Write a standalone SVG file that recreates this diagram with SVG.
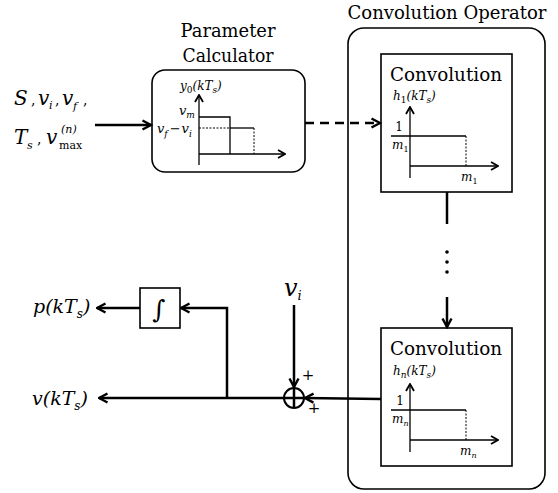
<svg xmlns="http://www.w3.org/2000/svg" width="558" height="493" viewBox="0 0 558 493">
  <style>
    .ln { stroke: #000; stroke-width: 2.5; fill: none; }
    .thin { stroke: #000; stroke-width: 1.3; fill: none; }
    .dot { stroke: #000; stroke-width: 1; fill: none; stroke-dasharray: 2 1.5; }
    .box { fill: #fff; stroke: #000; stroke-width: 1.6; }
    text { font-family: 'DejaVu Serif', 'Liberation Serif', serif; fill: #000; }
    .ttl { font-size: 18px; }
    .m { font-style: italic; }
  </style>
  <defs>
    <marker id="ah" viewBox="0 0 12 12" refX="10.5" refY="6" markerWidth="12" markerHeight="12" orient="auto" markerUnits="userSpaceOnUse">
      <path d="M2,1.5 L10.5,6 L2,10.5" fill="none" stroke="#000" stroke-width="2.4"/>
    </marker>
    <marker id="sa" viewBox="0 0 10 10" refX="9" refY="5" markerWidth="10" markerHeight="10" orient="auto" markerUnits="userSpaceOnUse">
      <path d="M2,1 L9,5 L2,9" fill="none" stroke="#000" stroke-width="1.8"/>
    </marker>
  </defs>

  <rect width="558" height="493" fill="#fff"/>

  <!-- input parameters -->
  <g id="inputs">
    <text class="m" font-size="20" x="14" y="105">S</text>
    <text font-size="14" x="31" y="105">,</text>
    <text class="m" font-size="20" x="38" y="105">v</text>
    <text class="m" font-size="11" x="49" y="109">i</text>
    <text font-size="14" x="55" y="105">,</text>
    <text class="m" font-size="20" x="62" y="105">v</text>
    <text class="m" font-size="11" x="73" y="110">f</text>
    <text font-size="14" x="83" y="105">,</text>

    <text class="m" font-size="20" x="14" y="144">T</text>
    <text class="m" font-size="11" x="27" y="149">s</text>
    <text font-size="14" x="37" y="144">,</text>
    <text class="m" font-size="20" x="46" y="144">v</text>
    <text class="m" font-size="11" x="61" y="133">(n)</text>
    <text font-size="11" x="59" y="149">max</text>
  </g>

  <!-- parameter calculator -->
  <g id="param-calc">
    <text class="ttl" x="228" y="37" text-anchor="middle" textLength="95" lengthAdjust="spacingAndGlyphs">Parameter</text>
    <text class="ttl" x="228" y="62" text-anchor="middle" textLength="91" lengthAdjust="spacingAndGlyphs">Calculator</text>
    <rect class="box" x="152" y="70" width="153" height="102" rx="13"/>
    <line class="thin" x1="199" y1="165" x2="199" y2="95" marker-end="url(#sa)"/>
    <line class="thin" x1="199" y1="154" x2="285" y2="154" marker-end="url(#sa)"/>
    <polyline class="thin" points="199,117 230,117 230,154"/>
    <polyline class="thin" points="230,128 254,128"/>
    <line class="dot" x1="254" y1="128" x2="254" y2="154"/>
    <line class="dot" x1="199" y1="128" x2="230" y2="128"/>
    <text class="m" font-size="12" x="180" y="90">y<tspan font-style="normal" font-size="9" dy="3">0</tspan><tspan dy="-3">(kT</tspan><tspan font-size="9" dy="3">s</tspan><tspan dy="-3">)</tspan></text>
    <text class="m" font-size="13" x="179" y="115">v<tspan font-size="9" dy="3">m</tspan></text>
    <text class="m" font-size="13" x="157" y="133">v<tspan font-size="9" dy="4">f</tspan><tspan font-style="normal" dy="-4" dx="2">−</tspan><tspan dx="1">v</tspan><tspan font-size="9" dy="4">i</tspan></text>
  </g>

  <!-- convolution operator -->
  <g id="conv-op">
    <text class="ttl" x="447" y="19" text-anchor="middle" textLength="199" lengthAdjust="spacingAndGlyphs">Convolution Operator</text>
    <rect class="box" x="348" y="28" width="197" height="461" rx="16"/>
  </g>

  <g id="conv-1">
    <rect class="box" x="381" y="54" width="131" height="138" stroke-width="2"/>
    <text class="ttl" x="446" y="81" text-anchor="middle" textLength="112" lengthAdjust="spacingAndGlyphs">Convolution</text>
    <text class="m" font-size="12" x="393" y="100">h<tspan font-style="normal" font-size="9" dy="3">1</tspan><tspan dy="-3">(kT</tspan><tspan font-size="9" dy="3">s</tspan><tspan dy="-3">)</tspan></text>
    <line class="thin" x1="410" y1="178" x2="410" y2="107" marker-end="url(#sa)"/>
    <line class="thin" x1="410" y1="166" x2="498" y2="166" marker-end="url(#sa)"/>
    <polyline class="thin" points="391,136 410,136 466,136"/>
    <line class="dot" x1="466" y1="136" x2="466" y2="166"/>
    <text font-size="12" x="399" y="131" text-anchor="middle">1</text>
    <text class="m" font-size="12" x="392" y="149">m<tspan font-style="normal" font-size="8" dy="3">1</tspan></text>
    <text class="m" font-size="12" x="461" y="181">m<tspan font-style="normal" font-size="8" dy="3">1</tspan></text>
  </g>

  <g id="conv-n">
    <rect class="box" x="381" y="328" width="131" height="138" stroke-width="2"/>
    <text class="ttl" x="446" y="355" text-anchor="middle" textLength="112" lengthAdjust="spacingAndGlyphs">Convolution</text>
    <text class="m" font-size="12" x="393" y="375">h<tspan font-size="9" dy="3">n</tspan><tspan dy="-3">(kT</tspan><tspan font-size="9" dy="3">s</tspan><tspan dy="-3">)</tspan></text>
    <line class="thin" x1="410" y1="452" x2="410" y2="384" marker-end="url(#sa)"/>
    <line class="thin" x1="410" y1="440" x2="498" y2="440" marker-end="url(#sa)"/>
    <polyline class="thin" points="391,410 410,410 466,410"/>
    <line class="dot" x1="466" y1="410" x2="466" y2="440"/>
    <text font-size="12" x="400" y="405" text-anchor="middle">1</text>
    <text class="m" font-size="12" x="392" y="423">m<tspan font-size="8" dy="3">n</tspan></text>
    <text class="m" font-size="12" x="460" y="455">m<tspan font-size="8" dy="3">n</tspan></text>
  </g>

  <!-- summing junction -->
  <g id="sum">
    <circle cx="294" cy="398" r="10" fill="#fff" stroke="#000" stroke-width="2"/>
    <line class="ln" x1="284" y1="398" x2="304" y2="398" stroke-width="2"/>
    <line class="ln" x1="294" y1="388" x2="294" y2="408" stroke-width="2"/>
    <text font-size="15" x="308" y="380" text-anchor="middle">+</text>
    <text font-size="15" x="314" y="413" text-anchor="middle">+</text>
  </g>

  <g id="vi-label">
    <text class="m" font-size="24" x="284" y="296">v<tspan font-size="13" dy="4">i</tspan></text>
  </g>

  <!-- integrator -->
  <g id="integrator">
    <rect class="box" x="140" y="288" width="40" height="40"/>
    <text font-size="25" x="159" y="318" text-anchor="middle">∫</text>
  </g>

  <g id="outputs">
    <text class="m" font-size="19" x="33" y="313">p(kT<tspan font-size="12" dy="5">s</tspan><tspan dy="-5">)</tspan></text>
    <text class="m" font-size="19" x="32" y="405">v(kT<tspan font-size="12" dy="5">s</tspan><tspan dy="-5">)</tspan></text>
  </g>

  <!-- connectors -->
  <g id="connectors">
    <line class="ln" x1="95" y1="125" x2="151" y2="125" marker-end="url(#ah)"/>
    <line class="ln" x1="305" y1="123" x2="380" y2="123" stroke-dasharray="9 6" marker-end="url(#ah)"/>
    <line class="ln" x1="447" y1="192" x2="447" y2="224"/>
    <circle cx="447" cy="252" r="1.8" fill="#000"/>
    <circle cx="447" cy="262" r="1.8" fill="#000"/>
    <circle cx="447" cy="272" r="1.8" fill="#000"/>
    <line class="ln" x1="447" y1="297" x2="447" y2="327" marker-end="url(#ah)"/>
    <line class="ln" x1="381" y1="399" x2="305" y2="398" marker-end="url(#ah)"/>
    <line class="ln" x1="294" y1="305" x2="294" y2="387" marker-end="url(#ah)"/>
    <line class="ln" x1="284" y1="398" x2="99" y2="398" marker-end="url(#ah)"/>
    <polyline class="ln" points="227,398 227,308 181,308" marker-end="url(#ah)"/>
    <line class="ln" x1="140" y1="308" x2="97" y2="308" marker-end="url(#ah)"/>
  </g>
</svg>
